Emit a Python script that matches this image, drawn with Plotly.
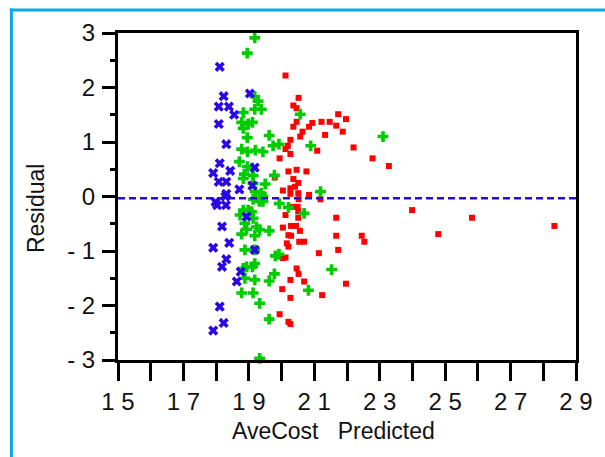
import plotly.graph_objects as go

# ---- data ----
blue_x = [18.11, 18.23, 19.03, 18.08, 18.39, 18.55, 18.08, 18.31, 18.11, 18.43, 19.18, 17.91, 18.08,
          18.31, 18.71, 19.11, 18.31, 17.98, 18.28, 18.03, 18.30, 18.93, 18.18, 18.40, 17.91, 19.18,
          18.31, 18.18, 18.75, 18.63, 18.11, 18.23, 17.91]
blue_y = [2.38, 1.84, 1.89, 1.65, 1.65, 1.50, 1.33, 0.96, 0.61, 0.47, 0.53, 0.43, 0.27,
          0.27, 0.13, 0.20, 0.05, -0.10, 0.00, -0.16, -0.16, -0.37, -0.55, -0.85, -0.94, -0.98,
          -1.15, -1.29, -1.38, -1.56, -2.02, -2.32, -2.46]

green_x = [19.18, 18.95, 19.18, 19.28, 19.18, 19.38, 18.83, 18.78, 19.11, 18.98, 18.83, 18.95, 19.62,
           20.57, 19.74, 19.92, 20.89, 18.78, 18.96, 19.20, 19.43, 18.71, 18.96, 19.11, 18.86, 19.13,
           18.83, 19.50, 19.13, 19.20, 19.38, 21.19, 19.78, 19.43, 19.32, 19.43, 19.13, 18.83, 18.98,
           19.08, 18.73, 19.13, 18.88, 19.23, 18.93, 19.33, 19.62, 18.78, 19.18, 18.88, 19.18, 19.18,
           19.11, 18.83, 18.93, 18.88, 19.18, 19.78, 19.62, 19.81, 18.78, 19.13, 19.33, 19.62, 19.33,
           19.92, 20.82, 21.53, 20.69, 20.21, 19.93, 23.10]
green_y = [2.91, 2.63, 1.83, 1.75, 1.60, 1.60, 1.54, 1.36, 1.36, 1.33, 1.25, 1.08, 1.12,
           1.51, 0.93, 0.96, 0.93, 0.87, 0.82, 0.85, 0.82, 0.64, 0.55, 0.52, 0.41, 0.38,
           0.33, 0.23, 0.24, 0.09, 0.06, 0.09, 0.39, 0.00, -0.09, -0.09, -0.05, -0.25, -0.25,
           -0.28, -0.34, -0.40, -0.49, -0.56, -0.60, -0.61, -0.63, -0.69, -0.72, -0.98, -0.98, -1.23,
           -1.29, -1.32, -1.29, -1.50, -1.53, -1.42, -1.55, -1.09, -1.77, -1.77, -1.96, -2.25, -2.97,
           -1.06, -1.72, -1.34, -0.31, -0.20, -0.13, 1.10]

red_x = [20.12, 20.52, 20.36, 20.46, 20.46, 20.36, 20.94, 20.84, 21.22, 21.47, 21.73, 21.97, 21.67,
         21.33, 21.87, 20.64, 20.57, 20.27, 20.19, 20.12, 20.27, 21.09, 22.20, 19.94, 22.78, 23.28,
         20.21, 20.46, 20.76, 20.36, 20.51, 19.79, 20.04, 20.27, 20.41, 20.27, 20.51, 20.84, 20.52,
         21.19, 20.34, 20.49, 20.51, 20.12, 20.51, 21.67, 20.04, 20.29, 20.44, 20.56, 20.21, 20.29,
         21.67, 22.45, 22.53, 20.16, 20.54, 20.69, 20.21, 21.73, 21.14, 20.04, 20.12, 20.46, 20.52,
         20.27, 20.69, 21.97, 20.02, 20.27, 21.24, 19.94, 20.21, 20.27, 23.99, 25.82, 24.79, 28.34]
red_y = [2.22, 1.81, 1.67, 1.62, 1.37, 1.28, 1.35, 1.28, 1.37, 1.37, 1.51, 1.42, 1.30,
         1.13, 1.19, 1.19, 1.10, 1.04, 0.93, 0.87, 0.78, 0.84, 0.90, 0.70, 0.70, 0.56,
         0.46, 0.49, 0.46, 0.32, 0.25, 0.35, 0.11, 0.15, 0.18, 0.05, 0.06, 0.03, -0.05,
         -0.05, -0.19, -0.19, -0.27, -0.34, -0.39, -0.39, -0.57, -0.54, -0.54, -0.63, -0.71, -0.72,
         -0.72, -0.72, -0.83, -0.86, -0.83, -0.83, -0.92, -0.98, -1.04, -1.13, -1.12, -1.32, -1.42,
         -1.53, -1.56, -1.60, -1.70, -1.86, -1.81, -2.16, -2.30, -2.34, -0.25, -0.39, -0.69, -0.54]

ref_y = -0.03
x_ticks = [15, 17, 19, 21, 23, 25, 27, 29]
x_tick_text = ["1 5", "1 7", "1 9", "2 1", "2 3", "2 5", "2 7", "2 9"]
y_ticks = [-3, -2, -1, 0, 1, 2, 3]
y_tick_text = ["- 3", "- 2", "- 1", "0", "1", "2", "3"]
x_title = "AveCost\u00a0\u00a0 Predicted"
y_title = "Residual"

FONT = "Liberation Sans, Arial, sans-serif"
BLUE = "#2a08e6"
GREEN = "#00cc00"
RED = "#ff0000"

fig = go.Figure()
fig.add_trace(go.Scatter(x=red_x, y=red_y, mode="markers",
                         marker=dict(symbol="square", size=6, color=RED, line=dict(width=0)),
                         showlegend=False, cliponaxis=False))
fig.add_trace(go.Scatter(x=green_x, y=green_y, mode="markers",
                         marker=dict(symbol="cross", size=9, color=GREEN, line=dict(width=0)),
                         showlegend=False, cliponaxis=False))
fig.add_trace(go.Scatter(x=blue_x, y=blue_y, mode="markers",
                         marker=dict(symbol="x", size=9, color=BLUE, line=dict(width=0)),
                         showlegend=False, cliponaxis=False))
fig.add_trace(go.Scatter(x=[15, 29], y=[ref_y, ref_y], mode="lines",
                         line=dict(color=BLUE, width=2.5, dash="7px,4px"),
                         showlegend=False, hoverinfo="skip"))

L, R, T, B = 118, 23, 33, 97
W, H = 605, 457
pw, ph = W - L - R, H - T - B

def px_to_paper_x(px):
    return (px - L) / pw

def px_to_paper_y(py):
    return (H - B - py) / ph

frame_col = "#0aa8e8"
fig.add_shape(type="line", xref="paper", yref="paper",
              x0=px_to_paper_x(10), x1=px_to_paper_x(10),
              y0=px_to_paper_y(470), y1=px_to_paper_y(8.5),
              line=dict(color=frame_col, width=3))
fig.add_shape(type="line", xref="paper", yref="paper",
              x0=px_to_paper_x(8.5), x1=px_to_paper_x(620),
              y0=px_to_paper_y(10), y1=px_to_paper_y(10),
              line=dict(color=frame_col, width=3))

fig.add_annotation(text=x_title, xref="paper", yref="paper",
                   x=px_to_paper_x(336), y=px_to_paper_y(431),
                   showarrow=False, font=dict(family=FONT, size=23, color="#111"),
                   xanchor="center", yanchor="middle")
fig.add_annotation(text=y_title, xref="paper", yref="paper",
                   x=px_to_paper_x(35), y=px_to_paper_y(208), textangle=-90,
                   showarrow=False, font=dict(family=FONT, size=23, color="#111"),
                   xanchor="center", yanchor="middle")

fig.update_layout(
    width=W, height=H,
    margin=dict(l=L, r=R, t=T, b=B),
    paper_bgcolor="white", plot_bgcolor="white",
    font=dict(family=FONT, size=24, color="#111"),
)
fig.update_xaxes(range=[15, 29], tickvals=x_ticks, ticktext=x_tick_text,
                 showgrid=False, zeroline=False,
                 showline=True, mirror=True, linecolor="black", linewidth=3,
                 ticks="outside", ticklen=18, tickwidth=3, tickcolor="black",
                 minor=dict(dtick=1, tick0=15, ticks="outside", ticklen=18, tickwidth=3, tickcolor="black", showgrid=False),
                 tickfont=dict(family=FONT, size=24, color="#111"))
fig.update_yaxes(range=[-3, 3], tickvals=y_ticks, ticktext=y_tick_text,
                 showgrid=False, zeroline=False,
                 showline=True, mirror=True, linecolor="black", linewidth=3,
                 ticks="outside", ticklen=13, tickwidth=3, tickcolor="black",
                 minor=dict(dtick=0.5, tick0=-3, ticks="outside", ticklen=5, tickwidth=3, tickcolor="black", showgrid=False),
                 ticklabelstandoff=2,
                 tickfont=dict(family=FONT, size=24, color="#111"))

fig.write_html("out.html")
